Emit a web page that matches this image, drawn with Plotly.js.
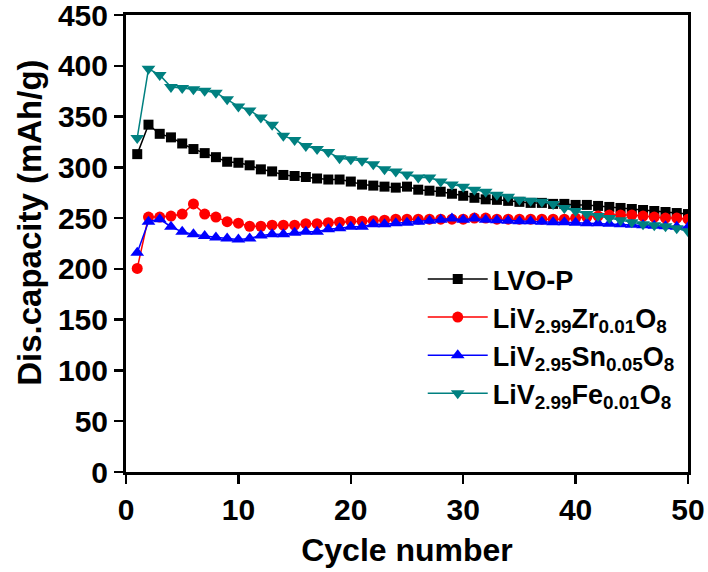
<!DOCTYPE html>
<html>
<head>
<meta charset="utf-8">
<script src="https://cdn.plot.ly/plotly-3.0.1.min.js"></script>
<style>
  body { margin: 0; padding: 0; background: #fff; }
  #cap_plot { width: 708px; height: 572px; }
</style>
</head>
<body>
<div id="cap_plot"></div>
<script>
// cycle index 1..50
var cycles = [];
for (var i = 1; i <= 50; i++) cycles.push(i);

var lvoP = [313, 342, 333, 329.5, 323.5, 318, 314, 310, 305.5, 304.5,
            302, 298, 296, 292.5, 291.5, 290.5, 289, 288, 288, 286,
            283, 282, 281, 280, 281, 278, 277, 276, 274, 272,
            270, 268.5, 268, 267, 266, 265, 265, 264, 264, 263,
            263, 262, 261, 260, 259, 258, 257, 256, 255, 254];

var zrDoped = [200.5, 251, 251, 252, 254, 264, 254, 251, 246.5, 245,
               242, 242, 243, 243, 243, 244.5, 244.5, 245.5, 246, 247,
               247, 247.5, 248, 249, 249, 249, 249, 249, 249, 249,
               250, 250, 249, 249, 249, 249, 249, 249, 249, 250,
               251, 252, 253, 253, 253, 252, 251, 250, 250, 249];

var snDoped = [216, 246.5, 249, 241.5, 236.5, 234, 232.5, 231, 230, 229,
               230, 233, 234, 234, 235.5, 236.5, 236.5, 239, 240, 241.5,
               241.5, 244, 244, 245, 245.5, 246.5, 247.5, 248.5, 249.5, 248.5,
               249.5, 248.5, 248, 247.5, 247, 247, 246.5, 246, 246, 245.5,
               245, 245, 244.5, 244, 243.5, 243, 242.5, 242, 241.5, 241];

var feDoped = [329, 397, 391, 379, 378, 377, 375.5, 373.5, 367, 360,
               356, 349, 342, 331, 327, 321, 318, 315, 309, 308,
               306.5, 303, 298, 296, 293, 290, 290, 286, 283, 281,
               278, 276, 273, 271, 268, 267, 266, 264, 260, 257,
               254, 252, 250, 248, 246, 244, 243, 242, 240, 237];

var seriesNames = ['LVO-P',
                   'LiV<sub>2.99</sub>Zr<sub>0.01</sub>O<sub>8</sub>',
                   'LiV<sub>2.95</sub>Sn<sub>0.05</sub>O<sub>8</sub>',
                   'LiV<sub>2.99</sub>Fe<sub>0.01</sub>O<sub>8</sub>'];

var xTicks = [0, 10, 20, 30, 40, 50];
var yTicks = [0, 50, 100, 150, 200, 250, 300, 350, 400, 450];

var FONT = 'Liberation Sans, Arial, sans-serif';

function makeTrace(y, name, color, symbol, size) {
    return {
        type: 'scatter', mode: 'lines+markers',
        x: cycles, y: y, name: name,
        line: {color: color, width: 1.5},
        marker: {color: color, symbol: symbol, size: size}
    };
}

var data = [
    makeTrace(lvoP, seriesNames[0], '#000000', 'square', 10),
    makeTrace(zrDoped, seriesNames[1], '#ff0000', 'circle', 11),
    makeTrace(snDoped, seriesNames[2], '#0000ff', 'triangle-up', 12),
    makeTrace(feDoped, seriesNames[3], '#008080', 'triangle-down', 12)
];

var axisCommon = {
    showline: true, linecolor: '#000', linewidth: 3, mirror: true,
    ticks: 'outside', ticklen: 9, tickwidth: 2.5, tickcolor: '#000',
    showgrid: false, zeroline: false,
    ticklabeloverflow: 'allow',
    tickfont: {family: FONT, size: 30, color: '#000', weight: 'bold'}
};

var layout = {
    width: 708,
    height: 572,
    margin: {l: 126, r: 20, t: 15, b: 100},
    paper_bgcolor: '#fff',
    plot_bgcolor: '#fff',
    xaxis: Object.assign({}, axisCommon, {
        range: [0, 50],
        tickvals: xTicks,
        title: {text: 'Cycle number', standoff: 14,
                font: {family: FONT, size: 32, color: '#000', weight: 'bold'}}
    }),
    yaxis: Object.assign({}, axisCommon, {
        range: [0, 450],
        tickvals: yTicks
    }),
    // y title placed as annotation so it sits a bit above centre like the original
    annotations: [{
        text: 'Dis.capacity (mAh/g)', textangle: -90, showarrow: false,
        xref: 'paper', yref: 'paper', x: -0.171, y: 0.545,
        xanchor: 'center', yanchor: 'middle',
        font: {family: FONT, size: 33, color: '#000', weight: 'bold'}
    }],
    showlegend: true,
    legend: {
        x: 0.528, y: 0.475, xanchor: 'left', yanchor: 'top',
        bgcolor: 'rgba(0,0,0,0)',
        itemwidth: 60,
        tracegroupgap: 0,
        font: {family: FONT, size: 27, color: '#000', weight: 'bold'}
    }
};

Plotly.newPlot('cap_plot', data, layout, {displayModeBar: false, staticPlot: true});
</script>
</body>
</html>
